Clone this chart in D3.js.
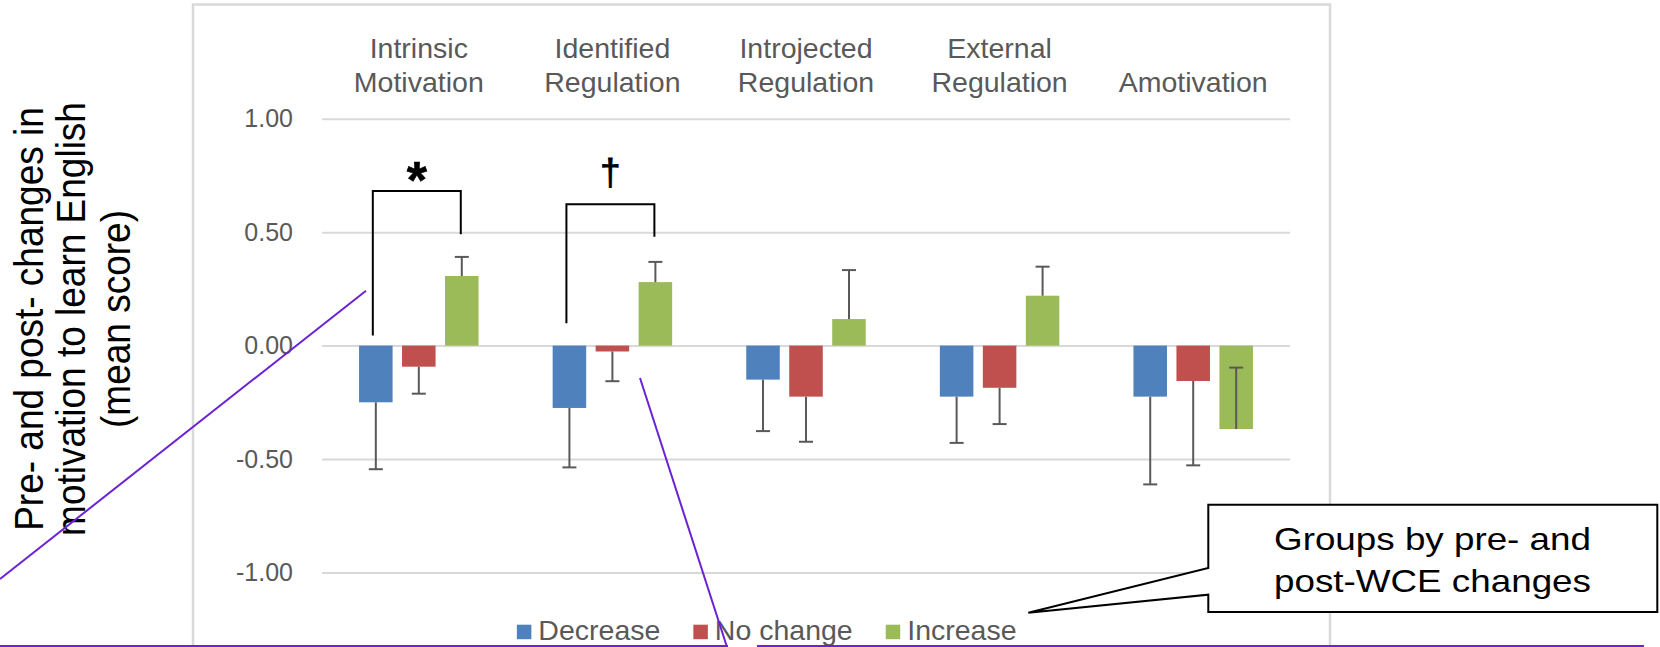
<!DOCTYPE html>
<html lang="en">
<head>
<meta charset="UTF-8">
<title>Pre- and post- changes in motivation to learn English</title>
<script src="https://d3js.org/d3.v7.min.js"></script>
<style>
  body { margin: 0; background: #fff; }
  svg { display: block; font-family: "Liberation Sans", Arial, sans-serif; }
</style>
</head>
<body>
<svg width="1660" height="647"></svg>
<script>
// categories (tick labels on top, split in lines)
var categories = [["Intrinsic", "Motivation"], ["Identified", "Regulation"],
                  ["Introjected", "Regulation"], ["External", "Regulation"], ["Amotivation"]];
var seriesNames = ["Decrease", "No change", "Increase"];
var seriesColors = ["#4f81bd", "#c0504d", "#9bbb59"];

// mean change per group
var decrease = [-0.25, -0.275, -0.15, -0.225, -0.225];
var noChange = [-0.093, -0.026, -0.225, -0.186, -0.156];
var increase = [0.307, 0.28, 0.117, 0.22, -0.368];

// error bars (signed length, drawn from the end of the bar)
var decreaseErr = [-0.295, -0.262, -0.227, -0.204, -0.387];
var noChangeErr = [-0.119, -0.131, -0.199, -0.16, -0.372];
var increaseErr = [0.084, 0.089, 0.216, 0.128, 0.271];

var yTicks = [1, 0.5, 0, -0.5, -1];

// significance brackets: between Decrease and Increase of a category
var sigCats = [0, 1];
var sigMarks = ["*", "\u2020"];
var sigTop = [0.682, 0.623];
var sigLeftEnd = [0.044, 0.098];
var sigRightEnd = [0.491, 0.48];

var series = [
  {name: seriesNames[0], values: decrease, err: decreaseErr},
  {name: seriesNames[1], values: noChange, err: noChangeErr},
  {name: seriesNames[2], values: increase, err: increaseErr}
];

var svg = d3.select("svg");
var gray = "#595959";
var purple = "#6a22d4";

// chart frame (goes past the bottom of the picture)
svg.append("rect")
  .attr("x", 193).attr("y", 4.5)
  .attr("width", 1137).attr("height", 700)
  .attr("fill", "none").attr("stroke", "#d9d9d9").attr("stroke-width", 2.5);

var x = d3.scaleBand().domain(d3.range(categories.length)).range([322, 1290]).padding(0);
var xSub = d3.scaleBand().domain(seriesNames).range([0, x.bandwidth()])
  .paddingInner(0.22).paddingOuter(0.862);
var y = d3.scaleLinear().domain([-1, 1]).range([572.4, 118.8]);

// gridlines + tick labels
var yAxis = svg.append("g")
  .attr("transform", "translate(322,0)")
  .call(d3.axisLeft(y).tickValues(yTicks)
    .tickSize(-(1290 - 322)).tickPadding(29)
    .tickFormat(function(d) { return d.toFixed(2); }));
yAxis.select(".domain").remove();
yAxis.selectAll(".tick line").attr("stroke", "#d9d9d9").attr("stroke-width", 2);
yAxis.selectAll(".tick text")
  .attr("fill", gray).attr("font-size", "25px")
  .attr("font-family", "Liberation Sans, Arial, sans-serif");

// bars
var groups = svg.selectAll(".series").data(series).enter().append("g")
  .attr("class", "series")
  .attr("fill", function(d, i) { return seriesColors[i]; });

groups.selectAll("rect")
  .data(function(s) { return s.values.map(function(v, j) { return {name: s.name, v: v, j: j}; }); })
  .enter().append("rect")
  .attr("x", function(d) { return x(d.j) + xSub(d.name); })
  .attr("y", function(d) { return y(Math.max(0, d.v)); })
  .attr("width", xSub.bandwidth())
  .attr("height", function(d) { return Math.abs(y(d.v) - y(0)); });

// error bars
var errData = [];
series.forEach(function(s) {
  s.values.forEach(function(v, j) {
    errData.push({cx: x(j) + xSub(s.name) + xSub.bandwidth() / 2, y0: y(v), y1: y(v + s.err[j])});
  });
});
var eb = svg.append("g").attr("stroke", gray).attr("stroke-width", 2);
eb.selectAll(".stem").data(errData).enter().append("line")
  .attr("x1", function(d) { return d.cx; }).attr("x2", function(d) { return d.cx; })
  .attr("y1", function(d) { return d.y0; }).attr("y2", function(d) { return d.y1; });
eb.selectAll(".cap").data(errData).enter().append("line")
  .attr("x1", function(d) { return d.cx - 7; }).attr("x2", function(d) { return d.cx + 7; })
  .attr("y1", function(d) { return d.y1; }).attr("y2", function(d) { return d.y1; });

// significance brackets
sigCats.forEach(function(c, i) {
  var xl = x(c) + xSub(seriesNames[0]) + xSub.bandwidth() / 2 - 3;
  var xr = x(c) + xSub(seriesNames[2]) + xSub.bandwidth() / 2 - 1;
  svg.append("path")
    .attr("d", "M" + xl + "," + y(sigLeftEnd[i]) + "V" + y(sigTop[i]) + "H" + xr + "V" + y(sigRightEnd[i]))
    .attr("fill", "none").attr("stroke", "#000").attr("stroke-width", 2);
  var isStar = sigMarks[i] === "*";
  svg.append("text")
    .attr("x", (xl + xr) / 2)
    .attr("y", isStar ? 198 : 185)
    .attr("text-anchor", "middle")
    .attr("font-size", isStar ? "52px" : "37px")
    .attr("font-weight", isStar ? "bold" : "normal")
    .attr("fill", "#000")
    .attr("stroke", "#000").attr("stroke-width", isStar ? 0.6 : 0.8)
    .text(sigMarks[i]);
});

// category labels along the top
var cat = svg.selectAll(".cat").data(categories).enter().append("text")
  .attr("class", "cat")
  .attr("text-anchor", "middle")
  .attr("font-size", "28.5px")
  .attr("fill", gray);
cat.selectAll("tspan")
  .data(function(d) { return d.length === 1 ? [{t: d[0], k: 1}] : d.map(function(t, k) { return {t: t, k: k}; }); })
  .enter().append("tspan")
  .attr("x", function() { return x(categories.indexOf(d3.select(this.parentNode).datum())) + x.bandwidth() / 2; })
  .attr("y", function(d) { return d.k === 0 ? 58.3 : 91.7; })
  .text(function(d) { return d.t; });

// legend
var legend = svg.append("g");
var lx = 0;
seriesNames.forEach(function(n, i) {
  legend.append("rect").attr("x", lx).attr("y", 624.7)
    .attr("width", 14.5).attr("height", 14.5).attr("fill", seriesColors[i]);
  var t = legend.append("text").attr("x", lx + 21.5).attr("y", 639.7)
    .attr("font-size", "28.5px").attr("fill", gray).text(n);
  lx += 21.5 + t.node().getComputedTextLength() + 33;
});
var lw = lx - 33;
legend.attr("transform", "translate(" + (766.7 - lw / 2) + ",0)");

// y axis title (rotated, three lines)
var title = svg.append("text")
  .attr("transform", "translate(0,319) scale(1.08,1) rotate(-90)")
  .attr("text-anchor", "middle")
  .attr("font-size", "37px")
  .attr("fill", "#000");
["Pre- and post- changes in", "motivation to learn English", "(mean score)"].forEach(function(t, k) {
  title.append("tspan").attr("x", 0).attr("y", [40.1, 78.7, 120.4][k]).text(t);
});

// purple pointer lines
var pl = svg.append("g").attr("stroke", purple).attr("stroke-width", 2).attr("fill", "none");
pl.append("line").attr("x1", 0).attr("y1", 579).attr("x2", 366).attr("y2", 290.7);
pl.append("line").attr("x1", 640).attr("y1", 378).attr("x2", 727).attr("y2", 647);
pl.append("line").attr("x1", 0).attr("y1", 646).attr("x2", 728).attr("y2", 646);
pl.append("line").attr("x1", 757).attr("y1", 646).attr("x2", 1644).attr("y2", 646);

// callout
svg.append("path")
  .attr("d", "M1208.3,504.7H1657.3V612H1208.3V594.7L1028.3,612.7L1208.3,568Z")
  .attr("fill", "#fff").attr("stroke", "#000").attr("stroke-width", 2);
var call = svg.append("text")
  .attr("transform", "translate(1432.5,0) scale(1.15,1)")
  .attr("text-anchor", "middle")
  .attr("font-size", "32px")
  .attr("fill", "#000");
call.append("tspan").attr("x", 0).attr("y", 550.3).text("Groups by pre- and");
call.append("tspan").attr("x", 0).attr("y", 592).text("post-WCE changes");
</script>
</body>
</html>
